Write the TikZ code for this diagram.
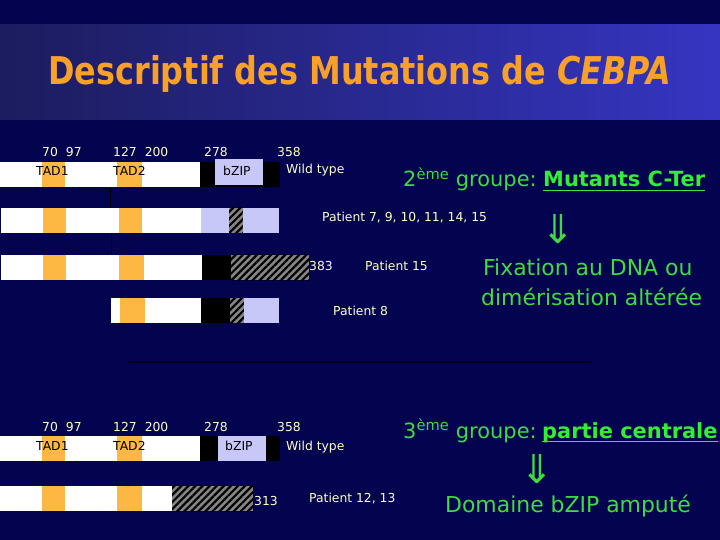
\documentclass[tikz,border=0pt]{standalone}
\usepackage{fontspec}
\setmainfont{DejaVu Sans}
\usetikzlibrary{patterns.meta}
\definecolor{bg}{HTML}{03034F}
\definecolor{bandL}{HTML}{1C1C5E}
\definecolor{bandR}{HTML}{3535C2}
\definecolor{titleor}{HTML}{F8A028}
\definecolor{tadc}{HTML}{FDB844}
\definecolor{lav}{HTML}{C8C8F8}
\definecolor{hatchg}{HTML}{858585}
\definecolor{lbl}{HTML}{FFFFC8}
\definecolor{grn}{HTML}{3EDC3E}
\definecolor{grnb}{HTML}{33EE33}
\definecolor{sepc}{HTML}{000018}
\begin{document}
\begin{tikzpicture}[x=1bp,y=-1bp,
  small/.style={inner sep=0pt, text=lbl, font=\fontsize{12.4}{13}\selectfont},
  dark/.style={inner sep=0pt, text=black, font=\fontsize{12.4}{13}\selectfont},
  gtext/.style={inner sep=0pt, text=grn, font=\fontsize{22}{24}\selectfont},
  gsmall/.style={inner sep=0pt, text=grn, font=\fontsize{21}{24}\selectfont},
  gbold/.style={inner sep=0pt, text=grnb, font=\fontsize{21}{24}\selectfont\bfseries},
  garrow/.style={inner sep=0pt, text=grn, font=\fontsize{40}{40}\selectfont, anchor=center},
  hatch/.style={fill=hatchg, postaction={pattern={Lines[angle=45,distance=5bp,line width=2.2bp]}, pattern color=black}},
  uline/.style={grnb, line width=1.8bp}]
\useasboundingbox (0,0) rectangle (720,540);
\fill[bg] (0,0) rectangle (720,540);
\shade[left color=bandL, right color=bandR] (0,25) rectangle (720,120);
\node[anchor=base, inner sep=0pt, text=titleor, font=\fontsize{32}{34}\selectfont\bfseries] (title) at (360,85)
  {\scalebox{1}[1.2]{Descriptif des Mutations de \textit{CEBPA}}};

% ---------- wild type (top) ----------
\fill[white] (0,162) rectangle (200,187);
\fill[black] (200,162) rectangle (280,187);
\fill[lav] (215,159) rectangle (263,185);
\fill[tadc] (42,162) rectangle (65,187);
\fill[tadc] (117,162) rectangle (142,187);
\node[small, anchor=base west] (l1a) at (42,157) {70\hspace{8bp}97};
\node[small, anchor=base west] (l1b) at (113,157) {127\hspace{8bp}200};
\node[small, anchor=base west] (l1c) at (204,157) {278};
\node[small, anchor=base west] (l1d) at (277,157) {358};
\node[dark, anchor=base west] (t1a) at (36,176) {TAD1};
\node[dark, anchor=base west] (t1b) at (113,176) {TAD2};
\node[dark, anchor=base west] (z1) at (223,176) {bZIP};
\node[small, anchor=base west] (w1) at (286,174) {Wild type};

\draw[black, line width=0.8bp] (110,188) -- (110,208);
\draw[black, line width=0.8bp] (111,233) -- (111,254);

% ---------- Patient 7,9,... ----------
\fill[white] (1,208) rectangle (201,233);
\fill[tadc] (43,208) rectangle (66,233);
\fill[tadc] (119,208) rectangle (142,233);
\fill[lav] (201,208) rectangle (229,233);
\fill[hatch] (229,208) rectangle (243,233);
\fill[lav] (243,208) rectangle (279,233);
\node[small, anchor=base west] (p1) at (322,222) {Patient 7, 9, 10, 11, 14, 15};

% ---------- Patient 15 ----------
\fill[white] (1,255) rectangle (202,280);
\fill[tadc] (43,255) rectangle (66,280);
\fill[tadc] (119,255) rectangle (144,280);
\fill[black] (202,255) rectangle (231,280);
\fill[hatch] (231,255) rectangle (309,280);
\node[small, anchor=base west] (n383) at (309,271) {383};
\node[small, anchor=base west] (p2) at (365,271) {Patient 15};

% ---------- Patient 8 ----------
\fill[white] (111,298) rectangle (201,323);
\fill[tadc] (120,298) rectangle (145,323);
\fill[black] (201,298) rectangle (230,323);
\fill[hatch] (230,298) rectangle (244,323);
\fill[lav] (244,298) rectangle (279,323);
\node[small, anchor=base west] (p3) at (333,315) {Patient 8};

% separator
\draw[sepc, line width=2bp] (128,362) -- (592,362);

% ---------- wild type (bottom) ----------
\fill[white] (0,436) rectangle (200,461);
\fill[black] (200,436) rectangle (280,461);
\fill[lav] (218,436) rectangle (266,461);
\fill[tadc] (42,436) rectangle (65,461);
\fill[tadc] (117,436) rectangle (142,461);
\node[small, anchor=base west] (l2a) at (42,431) {70\hspace{8bp}97};
\node[small, anchor=base west] (l2b) at (113,431) {127\hspace{8bp}200};
\node[small, anchor=base west] (l2c) at (204,431) {278};
\node[small, anchor=base west] (l2d) at (277,431) {358};
\node[dark, anchor=base west] (t2a) at (36,450) {TAD1};
\node[dark, anchor=base west] (t2b) at (113,450) {TAD2};
\node[dark, anchor=base west] (z2) at (225,450) {bZIP};
\node[small, anchor=base west] (w2) at (286,450) {Wild type};

% ---------- Patient 12,13 ----------
\fill[white] (0,486) rectangle (172,511);
\fill[tadc] (42,486) rectangle (65,511);
\fill[tadc] (117,486) rectangle (142,511);
\fill[hatch] (172,486) rectangle (253,511);
\node[small, anchor=base west] (n313) at (254,505) {313};
\node[small, anchor=base west] (p4) at (309,502) {Patient 12, 13};

% ---------- right column texts ----------
\node[gsmall, anchor=base west] (g2) at (403,187) {2\textsuperscript{ème} groupe:};
\node[gbold, anchor=base west] (mut) at (543,187) {Mutants C-Ter};
\draw[uline] ([yshift=-3.5bp]mut.base west) -- ([yshift=-3.5bp]mut.base east);
\node[garrow] (arr1) at (558,229) {⇓};
\node[gtext, anchor=base west] (fx1) at (483,276) {Fixation au DNA ou};
\node[gtext, anchor=base west] (fx2) at (481,305) {dimérisation altérée};

\node[gsmall, anchor=base west] (g3) at (403,438) {3\textsuperscript{ème} groupe:};
\node[gbold, anchor=base west] (pc) at (542,438) {partie centrale};
\draw[uline] ([yshift=-3.5bp]pc.base west) -- ([yshift=-3.5bp]pc.base east);
\node[garrow] (arr2) at (537,469) {⇓};
\node[gtext, anchor=base west] (dom) at (445,512) {Domaine bZIP amputé};
\end{tikzpicture}
\end{document}
